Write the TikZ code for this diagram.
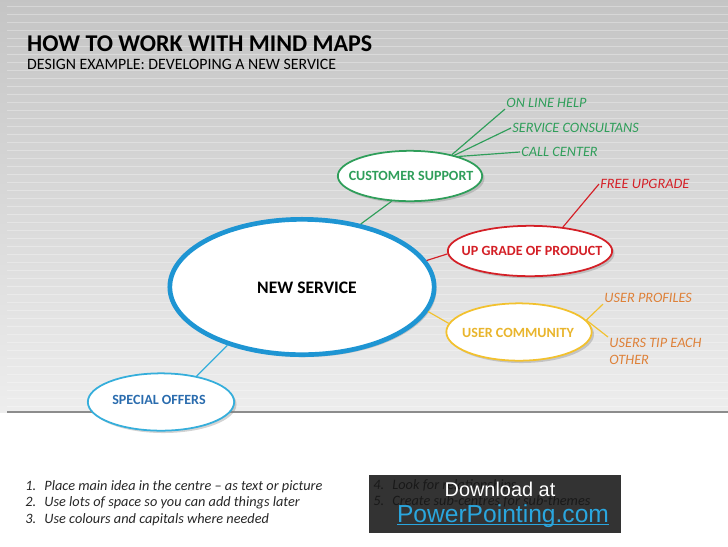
\documentclass[tikz,border=0pt]{standalone}
\usepackage{fontspec}
\setmainfont{Carlito}
\newfontfamily\arialfont{Liberation Sans}
\usetikzlibrary{shapes.geometric,shadows}
\definecolor{mmBlue}{HTML}{1E95D3}
\definecolor{mmSky}{HTML}{35AEDB}
\definecolor{mmNavy}{HTML}{2A6CAE}
\definecolor{mmGreen}{HTML}{2F9E5A}
\definecolor{mmRed}{HTML}{D42027}
\definecolor{mmGold}{HTML}{F2C12E}
\definecolor{mmGoldT}{HTML}{E9B52C}
\definecolor{mmOrange}{HTML}{DE8139}
\definecolor{mmDark}{HTML}{333333}
\definecolor{mmLink}{HTML}{2AA6DE}

\begin{document}
\begin{tikzpicture}[x=0.03cm,y=-0.03cm,
  bubble/.style={ellipse,draw=#1,fill=white,line width=1.5pt,
                 drop shadow={shadow xshift=2pt,shadow yshift=-2pt,opacity=0.35}},
  btext/.style={font=\fontsize{12}{12}\selectfont\bfseries,text=#1,inner sep=0pt},
  leaf/.style={font=\fontsize{12.2}{14.5}\selectfont\itshape,text=#1,
               anchor=west,inner sep=1pt,align=left},
  branch/.style={draw=#1,line width=1pt}]
  \useasboundingbox (0,0) rectangle (728,546);
  % striped backdrop
  \fill[top color=black!23,bottom color=black!7] (0,0) rectangle (728,412);
  \foreach \y in {6,14,...,406}
    \draw[white,opacity=0.3,line width=0.6pt] (7,\y) -- (728,\y);
  \draw[black!45,line width=1.5pt] (7,412) -- (728,412);

  \node[anchor=west,inner sep=0pt,font=\fontsize{20.5}{20.5}\selectfont\bfseries]
    (title) at (27,44) {HOW TO WORK WITH MIND MAPS};
  \node[anchor=west,inner sep=0pt,font=\fontsize{13.5}{13.5}\selectfont]
    (sub) at (27,64) {DESIGN EXAMPLE: DEVELOPING A NEW SERVICE};

  % bubbles
  \node[bubble=mmBlue,line width=4pt,minimum width=7.93cm,minimum height=4.06cm]
    (ns) at (302,287) {};
  \node[btext=black,font=\fontsize{15}{15}\selectfont\bfseries] (nst) at (307,288)
    {NEW SERVICE};
  \node[bubble=mmGreen,minimum width=4.33cm,minimum height=1.51cm] (cs) at (410,176) {};
  \node[btext=mmGreen] (cst) at (411,176) {CUSTOMER SUPPORT};
  \node[bubble=mmRed,minimum width=4.93cm,minimum height=1.51cm] (ug) at (530,251) {};
  \node[btext=mmRed] (ugt) at (532,251) {UP GRADE OF PRODUCT};
  \node[bubble=mmGold,minimum width=4.36cm,minimum height=1.72cm] (uc) at (519,332) {};
  \node[btext=mmGoldT] (uct) at (518,333) {USER COMMUNITY};
  \node[bubble=mmSky,minimum width=4.39cm,minimum height=1.72cm] (so) at (161,402) {};
  \node[btext=mmNavy] (sot) at (159,400) {SPECIAL OFFERS};

  % leaves
  \node[leaf=mmGreen] (olh) at (505,103) {ON LINE HELP};
  \node[leaf=mmGreen] (sc) at (511,128) {SERVICE CONSULTANS};
  \node[leaf=mmGreen] (cc) at (520,152) {CALL CENTER};
  \node[leaf=mmRed] (fu) at (599,184) {FREE UPGRADE};
  \node[leaf=mmOrange] (upr) at (603,298) {USER PROFILES};
  \node[leaf=mmOrange,anchor=north west] (ut) at (608,337) {USERS TIP EACH\\OTHER};

  \draw[branch=mmGreen] (ns.47) -- (cs.234);
  \draw[branch=mmGreen] (cs.27) -- (olh.south west);
  \draw[branch=mmGreen] (cs.25) -- (sc.west);
  \draw[branch=mmGreen] (cs.22) -- (cc.west);
  \draw[branch=mmRed] (ns.12) -- (ug.182);
  \draw[branch=mmRed] (ug.36) -- (fu.west);
  \draw[branch=mmGold] (ns.349) -- (uc.173);
  \draw[branch=mmGold] (uc.10) -- (upr.south west);
  \draw[branch=mmGold] (uc.10) -- (ut.north west);
  \draw[branch=mmSky] (ns.218) -- (so.36);

  % tips at the foot
  \node[anchor=north west,align=left,inner sep=1pt,text=black!85,
        font=\fontsize{12.2}{14}\selectfont\itshape] (tips) at (24,479)
    {\makebox[0.57cm][l]{1.}Place main idea in the centre – as text or picture\\
     \makebox[0.57cm][l]{2.}Use lots of space so you can add things later\\
     \makebox[0.57cm][l]{3.}Use colours and capitals where needed};
  \node[anchor=north west,fill=mmDark,minimum width=7.56cm,minimum height=1.74cm,
        inner sep=0pt] (wm) at (369,475) {};
  \node[anchor=north west,align=left,inner sep=1pt,text=black!90,
        font=\fontsize{12.2}{14}\selectfont\itshape] (tips2) at (372,478)
    {\makebox[0.57cm][l]{4.}Look for relationships\\
     \makebox[0.57cm][l]{5.}Create sub-centres for sub-themes};
  \node[text=white,font=\arialfont\fontsize{17}{17}\selectfont] (dl) at (500,489)
    {Download at};
  \node[text=mmLink,inner sep=0pt,font=\arialfont\fontsize{21}{21}\selectfont] (pp)
    at (503,516) {PowerPointing.com};
  \draw[mmLink,line width=0.8pt] ([yshift=-1.5pt]pp.base west) -- ([yshift=-1.5pt]pp.base east);
\end{tikzpicture}
\end{document}
